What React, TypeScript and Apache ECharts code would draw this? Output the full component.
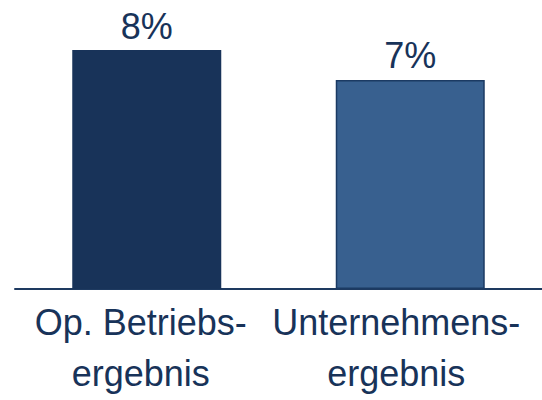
import React, { useEffect, useRef } from "react";
import * as echarts from "echarts";

const categories = ["Op. Betriebs-\nergebnis", "Unternehmens-\nergebnis"];
const values = [8, 7];
const valueLabels = ["8%", "7%"];
const barColors = ["#183359", "#38608f"];

export default function App() {
  const ref = useRef<HTMLDivElement>(null);
  useEffect(() => {
    const chart = echarts.init(ref.current!, null, { renderer: "svg", width: 542, height: 400 });
    const textColor = "#183359";
    const font = "'Liberation Sans', Arial, sans-serif";
    chart.setOption({
      animation: false,
      grid: {
        left: 15,
        right: 0,
        top: 50,
        bottom: 111,
        containLabel: false,
        outerBoundsMode: "none",
      },
      xAxis: {
        type: "category",
        data: categories,
        axisLine: { show: true, lineStyle: { color: "#1e3a60", width: 2 } },
        axisTick: { show: false },
        axisLabel: {
          interval: 0,
          margin: 8,
          formatter: (v: string, i: number) => {
            const tag = i === 0 ? "a" : "b";
            return v
              .split("\n")
              .map((line) => `{${tag}|${line}}`)
              .join("\n");
          },
          rich: {
            a: { fontSize: 36, fontFamily: font, color: textColor, lineHeight: 51, padding: [0, 12, 0, 0] },
            b: { fontSize: 36, fontFamily: font, color: textColor, lineHeight: 51, padding: [0, 28, 0, 0] },
          },
        },
      },
      yAxis: {
        type: "value",
        min: 0,
        max: 8,
        show: false,
        splitLine: { show: false },
      },
      series: [
        {
          type: "bar",
          barWidth: 149,
          data: values.map((v, i) => ({
            value: v,
            itemStyle: {
              color: barColors[i],
              borderColor: "#1b3a63",
              borderWidth: i === 1 ? 1.5 : 0,
            },
          })),
          label: {
            show: true,
            position: "top",
            distance: 6,
            fontSize: 36,
            fontFamily: font,
            color: textColor,
            formatter: (p: any) => valueLabels[p.dataIndex],
          },
        },
      ],
    });
    return () => chart.dispose();
  }, []);
  return (
    <div
      ref={ref}
      style={{ position: "fixed", left: 0, top: 0, width: 542, height: 400, background: "#fff" }}
    />
  );
}
